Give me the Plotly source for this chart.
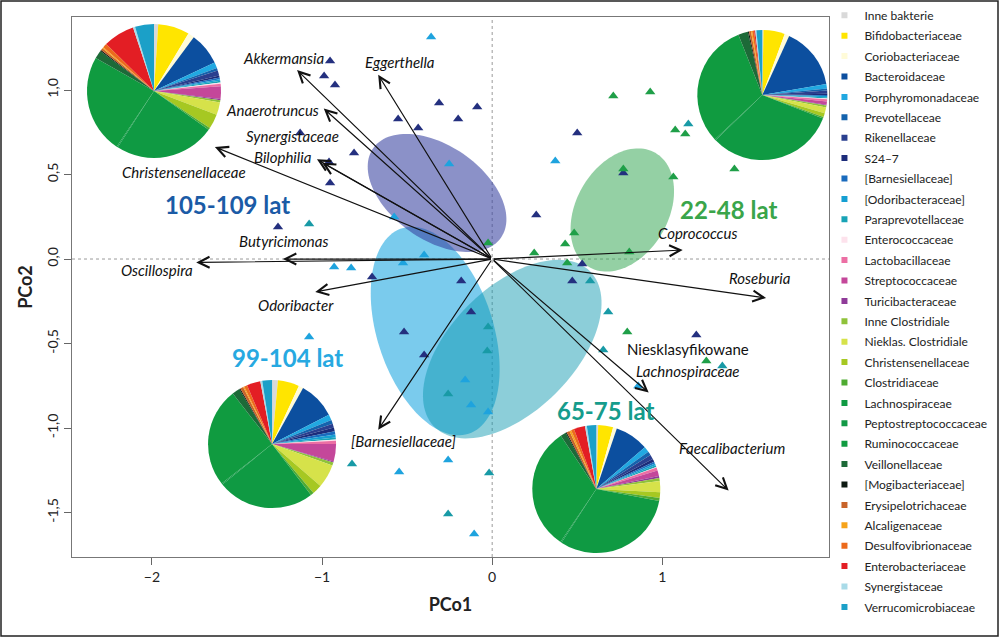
import numpy as np
import plotly.graph_objects as go

# ---------------- data ----------------
categories = ["Inne bakterie", "Bifidobacteriaceae", "Coriobacteriaceae", "Bacteroidaceae",
              "Porphyromonadaceae", "Prevotellaceae", "Rikenellaceae", "S24–7",
              "[Barnesiellaceae]", "[Odoribacteraceae]", "Paraprevotellaceae", "Enterococcaceae",
              "Lactobacillaceae", "Streptococcaceae", "Turicibacteraceae", "Inne Clostridiale",
              "Nieklas. Clostridiale", "Christensenellaceae", "Clostridiaceae", "Lachnospiraceae",
              "Peptostreptococcaceae", "Ruminococcaceae", "Veillonellaceae", "[Mogibacteriaceae]",
              "Erysipelotrichaceae", "Alcaligenaceae", "Desulfovibrionaceae", "Enterobacteriaceae",
              "Synergistaceae", "Verrucomicrobiaceae"]
cat_colors = ["#d9d9d9", "#ffe500", "#fffbd8", "#0c4f9f", "#21a8e1", "#1463ad", "#2a3f8f", "#1c2c7a",
              "#1a6bbd", "#159fd2", "#18a3b6", "#fde2ec", "#ec6fa4", "#c4479a", "#8f3b98", "#8fc23a",
              "#d6e24a", "#a6c822", "#4fab32", "#0f9a43", "#129946", "#109b40", "#1d6a38", "#0d1a12",
              "#c8642a", "#f6a31b", "#ec6a1c", "#e31e24", "#a9dbe8", "#1ba0c8"]

# pie compositions (% per category, in category order)
pie_105_109 = [1.0, 7.5, 1.5, 7.8, 1.4, 0.6, 1.2, 0.5, 0.4, 0.4, 0.4, 0.3, 0.6, 3.0, 0.3, 0.5, 3.0, 3.5,
               0.5, 24.0, 0.3, 23.5, 2.0, 0.3, 0.5, 0.3, 1.0, 7.5, 0.5, 4.5]
pie_22_48 = [0.3, 5.5, 1.2, 16.0, 1.2, 0.5, 0.8, 0.3, 0.3, 0.3, 0.3, 0.2, 0.6, 0.8, 0.2, 0.5, 1.5, 1.0,
             0.4, 33.0, 0.3, 32.0, 2.5, 0.3, 0.5, 0.3, 0.5, 0.3, 0.3, 1.5]
pie_99_104 = [1.5, 5.5, 1.2, 9.5, 1.5, 1.0, 1.0, 1.0, 0.8, 0.8, 0.5, 0.3, 0.8, 4.5, 0.3, 0.8, 6.0, 2.5,
              0.8, 25.0, 0.3, 25.5, 2.0, 0.3, 0.8, 0.3, 0.8, 3.5, 0.5, 2.5]
pie_65_75 = [0.5, 4.0, 1.0, 9.0, 1.5, 1.0, 1.2, 0.8, 0.5, 0.5, 0.5, 0.2, 0.8, 1.5, 0.5, 0.8, 3.0, 1.5,
             0.8, 33.0, 0.3, 33.0, 1.5, 0.3, 0.8, 0.5, 0.8, 3.0, 0.5, 2.5]
pie_values = [pie_105_109, pie_22_48, pie_99_104, pie_65_75]
pie_center_x = [-1.988, 1.588, -1.294, 0.612]
pie_center_y = [0.994, 0.970, -1.095, -1.361]
pie_radius_px = [67, 65, 64, 64]

# samples (PCo1, PCo2) per age group
grp_names = ["105-109 lat", "22-48 lat", "99-104 lat", "65-75 lat"]
grp_colors = ["#24307f", "#1f9f48", "#1ea3de", "#189aa6"]
navy_x = [-0.953, -0.988, -0.924, -0.312, -0.088, -0.553, -0.200, -0.435, -1.129, -0.812, -0.959,
          -0.953, -1.259, -0.706, -0.182, -0.124, -0.518, -0.400, 0.500, 0.771, 0.259, 0.529, 0.471, 1.200]
navy_y = [1.172, 1.083, 1.030, 0.923, 0.899, 0.828, 0.828, 0.775, 0.746, 0.627, 0.574,
          0.450, 0.189, -0.107, -0.130, -0.314, -0.432, -0.568, 0.746, 0.509, 0.260, -0.030, -0.130, -0.450]
green_x = [-0.024, 0.712, 0.929, 1.076, 1.135, 1.424, 0.771, 1.065, 0.482, 0.429, 0.806, 0.247, 0.441,
           0.794, 1.259]
green_y = [0.095, 0.964, 0.988, 0.763, 0.740, 0.533, 0.533, 0.485, 0.154, 0.089, 0.041, 0.036, -0.024,
           -0.432, -0.604]
lblue_x = [-0.359, -0.253, -0.576, -0.400, -0.524, -0.929, -0.829, -1.076, -0.159, -0.124, -0.024,
           -0.547, -0.259, -0.106, 0.371, 0.859]
lblue_y = [1.314, 0.562, 0.249, 0.024, -0.024, -0.047, -0.053, -0.462, -0.716, -0.864, -0.905,
           -1.260, -1.189, -1.627, 0.580, -0.751]
teal_x = [-1.076, -0.024, -0.029, -0.259, -0.824, -0.018, -0.259, 1.153, 0.576, 0.682, 0.653, 1.353]
teal_y = [0.207, -0.402, -0.544, -0.799, -1.213, -1.266, -1.509, 0.799, -0.130, -0.314, -0.538, -0.633]
grp_x = [navy_x, green_x, lblue_x, teal_x]
grp_y = [navy_y, green_y, lblue_y, teal_y]

# ellipse centres (data units), semi-axes (px) and tilt (deg, screen)
ell_cx = [-0.335, 0.118, -0.324, 0.765]
ell_cy = [-0.426, -0.533, 0.391, 0.290]
ell_a = [108, 110, 78, 66]
ell_b = [58, 62, 47, 46]
ell_ang = [72, -45, 35, -60]
ell_fill = ["rgba(0,155,220,0.52)", "rgba(10,150,175,0.47)", "rgba(55,65,160,0.58)", "rgba(60,170,90,0.55)"]

# biplot vectors
vec_names = ["Akkermansia", "Eggerthella", "Anaerotruncus", "Synergistaceae", "Bilophilia",
             "Christensenellaceae", "Butyricimonas", "Oscillospira", "Odoribacter", "[Barnesiellaceae]",
             "Coprococcus", "Roseburia", "Lachnospiraceae", "Faecalibacterium"]
vec_x = [-1.147, -0.67, -0.99, -1.03, -1.0, -1.63, -1.23, -1.74, -1.04, -0.67, 1.12, 1.61, 0.92, 1.39]
vec_y = [1.118, 1.09, 0.89, 0.59, 0.57, 0.663, 0.0, -0.02, -0.195, -1.01, 0.053, -0.23, -0.79, -1.37]
lab_x = [-1.229, -0.541, -1.294, -1.176, -1.229, -1.812, -1.229, -1.971, -1.153, -0.524, 1.206, 1.576,
         1.153, 1.412]
lab_y = [1.189, 1.166, 0.882, 0.728, 0.604, 0.515, 0.107, -0.065, -0.272, -1.077, 0.154, -0.112,
         -0.663, -1.118]

grp_label_x = [-1.553, 1.388, -1.206, 0.665]
grp_label_y = [0.320, 0.296, -0.580, -0.899]
grp_label_colors = ["#1b5ba6", "#3aa54a", "#27a9e1", "#169c8c"]

x_ticks = [-2, -1, 0, 1]
y_ticks = [-1.5, -1.0, -0.5, 0.0, 0.5, 1.0]
y_ticktext = ["-1,5", "-1,0", "-0,5", "0,0", "0,5", "1,0"]

# ---------------- layout geometry ----------------
XR = [-2.47, 1.98]
YR = [-1.763, 1.432]
ML, MR, MT, MB = 72, 171, 17, 80
FW, FH = 1000, 637
PW, PH = FW - ML - MR, FH - MT - MB
PXX = PW / (XR[1] - XR[0])
PXY = PH / (YR[1] - YR[0])

FONT = "Lato, 'Open Sans', sans-serif"

fig = go.Figure()

# ellipses
shapes = []
t = np.linspace(0, 2 * np.pi, 120)
for cx, cy, a, b, ang, fc in zip(ell_cx, ell_cy, ell_a, ell_b, ell_ang, ell_fill):
    th = np.radians(ang)
    dx = a * np.cos(t) * np.cos(th) - b * np.sin(t) * np.sin(th)
    dy = a * np.cos(t) * np.sin(th) + b * np.sin(t) * np.cos(th)
    xs = cx + dx / PXX
    ys = cy - dy / PXY
    path = "M " + " L ".join(f"{xx:.4f},{yy:.4f}" for xx, yy in zip(xs, ys)) + " Z"
    shapes.append(dict(type="path", path=path, xref="x", yref="y", fillcolor=fc,
                       line=dict(width=0), layer="below"))

# dotted zero lines
shapes.append(dict(type="line", xref="x", yref="paper", x0=0, x1=0, y0=0, y1=1,
                   line=dict(color="#9a9a9a", width=1, dash="dot"), layer="below"))
shapes.append(dict(type="line", xref="paper", yref="y", x0=0, x1=1, y0=0, y1=0,
                   line=dict(color="#9a9a9a", width=1, dash="dot"), layer="below"))
# outer figure border
shapes.append(dict(type="rect", xref="paper", yref="paper",
                   x0=(1 - ML) / PW, x1=(FW - 2 - ML) / PW,
                   y0=(PH - (FH - 1 - MT)) / PH, y1=(PH + MT - 1) / PH,
                   line=dict(color="#222", width=1.5), layer="above"))

# sample triangles
for name, xs, ys, col in zip(grp_names, grp_x, grp_y, grp_colors):
    fig.add_trace(go.Scatter(x=xs, y=ys, mode="markers", name=name, showlegend=False,
                             marker=dict(symbol="triangle-up", size=9, color=col, line=dict(width=0))))

# pies
for vals, cx, cy, r in zip(pie_values, pie_center_x, pie_center_y, pie_radius_px):
    px = (cx - XR[0]) / (XR[1] - XR[0])
    py = (cy - YR[0]) / (YR[1] - YR[0])
    hw, hh = r / PW, r / PH
    fig.add_trace(go.Pie(labels=categories, values=vals, sort=False, direction="clockwise",
                         rotation=0, textinfo="none", showlegend=False, hoverinfo="label+percent",
                         marker=dict(colors=cat_colors, line=dict(width=0)),
                         domain=dict(x=[max(0, px - hw), min(1, px + hw)],
                                     y=[max(0, py - hh), min(1, py + hh)])))

# legend entries
for i, (cat, col) in enumerate(zip(categories, cat_colors)):
    fig.add_trace(go.Scatter(x=[None], y=[None], mode="markers", name=cat, legendgroup=f"g{i}",
                             marker=dict(symbol="square", size=6, color=col), showlegend=True))

annotations = []
# vectors
for vx, vy in zip(vec_x, vec_y):
    annotations.append(dict(x=vx, y=vy, ax=0, ay=0, xref="x", yref="y", axref="x", ayref="y",
                            text="", showarrow=True, arrowhead=5, arrowsize=1.8, arrowwidth=1.2,
                            arrowcolor="#111"))
# vector labels
for name, lx, ly in zip(vec_names, lab_x, lab_y):
    if name == "Lachnospiraceae":
        annotations.append(dict(x=lx, y=ly + 0.13, xref="x", yref="y", text="Niesklasyfikowane",
                                showarrow=False, font=dict(family=FONT, size=15, color="#111")))
    annotations.append(dict(x=lx, y=ly, xref="x", yref="y", text=f"<i>{name}</i>", showarrow=False,
                            font=dict(family=FONT, size=15, color="#111")))
# group labels
for name, gx, gy, gc in zip(grp_names, grp_label_x, grp_label_y, grp_label_colors):
    annotations.append(dict(x=gx, y=gy, xref="x", yref="y", text=f"<b>{name}</b>", showarrow=False,
                            font=dict(family=FONT, size=24, color=gc)))

fig.update_layout(
    width=FW, height=FH,
    margin=dict(l=ML, r=MR, t=MT, b=MB, autoexpand=False),
    paper_bgcolor="white", plot_bgcolor="white",
    font=dict(family=FONT, color="#222"),
    shapes=shapes, annotations=annotations,
    showlegend=True,
    legend=dict(x=0.994, y=1.03, xanchor="left", yanchor="top", font=dict(family=FONT, size=12, color="#222"),
                tracegroupgap=1.4, bgcolor="rgba(0,0,0,0)", itemclick=False, maxheight=700),
    xaxis=dict(range=XR, tickvals=x_ticks, ticks="outside", ticklen=7, tickcolor="#666", automargin=False,
               showgrid=False, zeroline=False, showline=True, mirror=True, linecolor="#777", linewidth=1.3,
               tickfont=dict(family=FONT, size=14, color="#222"),
               title=dict(text="<b>PCo1</b>", font=dict(family=FONT, size=18, color="#222"), standoff=14)),
    yaxis=dict(range=YR, tickvals=y_ticks, ticktext=y_ticktext, ticks="outside", ticklen=7, automargin=False,
               tickcolor="#666", tickangle=-90,
               showgrid=False, zeroline=False, showline=True, mirror=True, linecolor="#777", linewidth=1.3,
               tickfont=dict(family=FONT, size=14, color="#222"),
               title=dict(text="<b>PCo2</b>", font=dict(family=FONT, size=18, color="#222"), standoff=6)),
)

fig.write_html("out.html", config={"displayModeBar": False},
               post_script="document.body.style.margin='0';")
